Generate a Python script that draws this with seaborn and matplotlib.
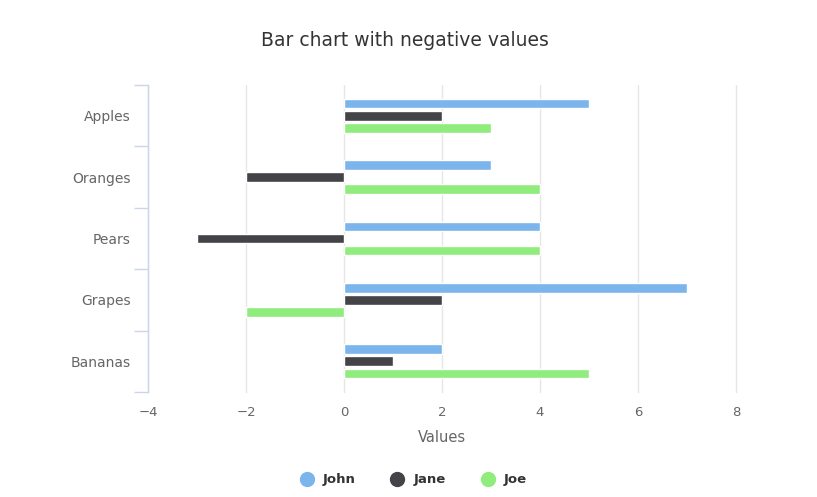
import matplotlib
matplotlib.use("Agg")
import matplotlib.pyplot as plt
from matplotlib.lines import Line2D
import seaborn as sns
import pandas as pd
import numpy as np

categories = ["Apples", "Oranges", "Pears", "Grapes", "Bananas"]
series_names = ["John", "Jane", "Joe"]
john = [5, 3, 4, 7, 2]
jane = [2, -2, -3, 2, 1]
joe = [3, 4, 4, -2, 5]
colors = ["#7cb5ec", "#434348", "#90ed7d"]
x_ticks = [-4, -2, 0, 2, 4, 6, 8]

rows = []
for name, vals in zip(series_names, [john, jane, joe]):
    for c, v in zip(categories, vals):
        rows.append({"Fruit": c, "Series": name, "Value": v})
df = pd.DataFrame(rows)

sns.set_theme(style="white")
plt.rcParams["font.family"] = ["DejaVu Sans"]

fig = plt.figure(figsize=(8.17, 4.97), dpi=100)
W, H = 817, 497
ax = fig.add_axes([148 / W, 1 - 392 / H, (736 - 148) / W, (392 - 85) / H])

sns.barplot(data=df, y="Fruit", x="Value", hue="Series", order=categories,
            hue_order=series_names, palette=colors, orient="h",
            width=0.59, gap=0.2, ax=ax, legend=False, saturation=1)

ax.set_xlim(-4, 8)
ax.set_ylim(4.5, -0.5)
ax.set_xticks(x_ticks)
ax.set_xticklabels(["\u22124", "\u22122", "0", "2", "4", "6", "8"])
ax.grid(axis="x", color="#e6e6e6", linewidth=1)
for gl in ax.get_xgridlines():
    gl.set_clip_on(False)
ax.set_axisbelow(True)
for s in ["top", "right", "bottom"]:
    ax.spines[s].set_visible(False)
ax.spines["left"].set_color("#ccd6eb")
ax.spines["left"].set_linewidth(1)

ax.tick_params(axis="x", length=0, labelsize=9.5, colors="#666666", pad=10)
ax.tick_params(axis="y", which="major", left=False, length=0, labelsize=10, colors="#666666", pad=18)
for lab in ax.get_yticklabels():
    pass
ax.set_yticks(np.arange(-0.5, 5, 1), minor=True)
ax.tick_params(axis="y", which="minor", left=True, length=10, color="#ccd6eb", width=1)
# move y labels closer (reference labels end near x=130)
import matplotlib.transforms as mtrans
off = mtrans.ScaledTranslation(8 / 100, 0, fig.dpi_scale_trans)
for lab in ax.get_yticklabels():
    lab.set_transform(lab.get_transform() + off)

ax.set_ylabel("")
ax.set_xlabel("Values", fontsize=10.5, color="#666666", labelpad=8)

fig.text(405 / W, 1 - 40 / H, "Bar chart with negative values", ha="center", va="center",
         fontsize=13.5, color="#333333")

handles = [Line2D([0], [0], marker="o", linestyle="none", markersize=10,
                  markerfacecolor=c, markeredgecolor=c) for c in colors]
leg = fig.legend(handles, series_names, loc="center", bbox_to_anchor=(410 / W, 1 - 480 / H),
                 ncol=3, frameon=False, handletextpad=0.2, columnspacing=2.2,
                 prop={"weight": "bold", "size": 9.5})
for t in leg.get_texts():
    t.set_color("#333333")

fig.savefig("out.png", dpi=100)
